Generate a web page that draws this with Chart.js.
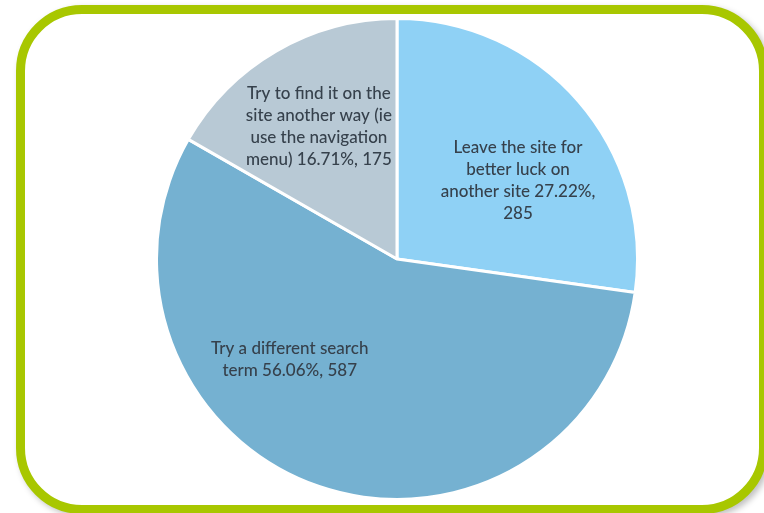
<!DOCTYPE html>
<html>
<head>
<meta charset="utf-8">
<script src="https://cdn.jsdelivr.net/npm/chart.js@4"></script>
<style>
  html, body { margin: 0; padding: 0; background: #fff; width: 764px; height: 513px; overflow: hidden; }
  .frame {
    position: absolute; left: 16px; top: 5px; width: 734px; height: 491px;
    border: 9px solid #a8c700; border-radius: 66px;
    box-shadow: 3px 3px 6px rgba(0, 0, 0, 0.25);
    background: #fff;
  }
  #pieWrap { position: absolute; left: 155px; top: 17px; width: 484px; height: 484px; }
</style>
</head>
<body>
<div class="frame"></div>
<div id="pieWrap"><canvas id="pie" width="484" height="484"></canvas></div>
<script>
// Answers to "what do you do when search finds nothing"
const categories = [
  "Leave the site for better luck on another site",
  "Try a different search term",
  "Try to find it on the site another way (ie use the navigation menu)"
];
const counts = [285, 587, 175];
const percents = ["27.22%", "56.06%", "16.71%"];
const sliceColors = ["#8fd1f5", "#75b1d1", "#b8c9d5"];

// label text as it wraps inside each slice
const labelLines = [
  ["Leave the site for", "better luck on", "another site 27.22%,", "285"],
  ["Try a different search", "term 56.06%, 587"],
  ["Try to find it on the", "site another way (ie", "use the navigation", "menu) 16.71%, 175"]
];

// where each label sits: angle (deg, 0 = 3 o'clock, clockwise) and fraction of radius
const labelAnchors = [
  { angle: -33, dist: 0.60 },
  { angle: 137, dist: 0.61 },
  { angle: 239.5, dist: 0.64 }
];

const sliceLabels = {
  id: "sliceLabels",
  afterDatasetsDraw(chart) {
    const ctx = chart.ctx;
    const arc = chart.getDatasetMeta(0).data[0];
    const cx = arc.x, cy = arc.y, r = arc.outerRadius;
    ctx.save();
    ctx.font = "500 17px Lato";
    ctx.fillStyle = "#36414c";
    ctx.textAlign = "center";
    ctx.textBaseline = "middle";
    labelLines.forEach((lines, i) => {
      const a = labelAnchors[i].angle * Math.PI / 180;
      const x = cx + Math.cos(a) * r * labelAnchors[i].dist;
      const y = cy + Math.sin(a) * r * labelAnchors[i].dist;
      const lh = 22;
      const top = y - (lines.length - 1) * lh / 2;
      lines.forEach((line, j) => ctx.fillText(line, x, top + j * lh));
    });
    ctx.restore();
  }
};

new Chart(document.getElementById("pie"), {
  type: "pie",
  data: {
    labels: categories,
    datasets: [{
      data: counts,
      backgroundColor: sliceColors,
      borderColor: "#ffffff",
      borderWidth: 3
    }]
  },
  options: {
    responsive: false,
    animation: false,
    events: [],
    plugins: {
      legend: { display: false },
      tooltip: { enabled: false },
      title: { display: false }
    }
  },
  plugins: [sliceLabels]
});
</script>
</body>
</html>
